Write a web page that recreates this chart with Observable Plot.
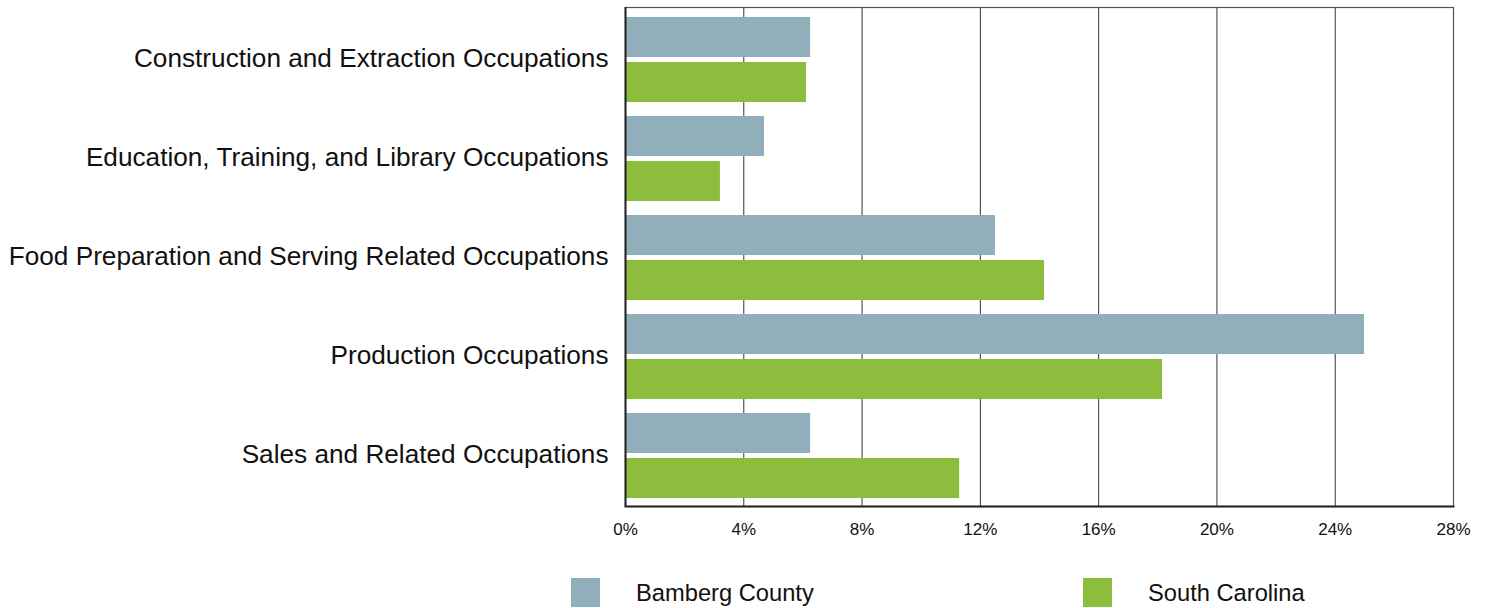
<!DOCTYPE html>
<html>
<head>
<meta charset="utf-8">
<script src="https://cdn.jsdelivr.net/npm/d3@7"></script>
<script src="https://cdn.jsdelivr.net/npm/@observablehq/plot@0.6"></script>
<style>
  html, body { margin: 0; padding: 0; background: #fff; }
  body { width: 1486px; height: 608px; position: relative; overflow: hidden; font-family: "Liberation Sans", Arial, sans-serif; }
  #legend { position: absolute; top: 578px; left: 0; width: 1486px; height: 30px; }
  .item { position: absolute; top: 0; display: flex; align-items: center; height: 29px; }
  .sw { width: 29px; height: 29px; }
  .lab { margin-left: 36px; font-size: 23.7px; color: #111; position: relative; top: 1px; }
</style>
</head>
<body>
<div id="chart"></div>
<div id="legend"></div>
<script>
const categories = [
  "Construction and Extraction Occupations",
  "Education, Training, and Library Occupations",
  "Food Preparation and Serving Related Occupations",
  "Production Occupations",
  "Sales and Related Occupations"
];
const seriesNames = ["Bamberg County", "South Carolina"];
const bamberg = [6.26, 4.70, 12.51, 24.99, 6.26];
const southCarolina = [6.12, 3.21, 14.17, 18.16, 11.30];
const xTicks = [0, 4, 8, 12, 16, 20, 24, 28];
const colors = ["#90afba", "#8dbd3c"];

const rowsB = categories.map((c, i) => ({category: c, value: bamberg[i]}));
const rowsS = categories.map((c, i) => ({category: c, value: southCarolina[i]}));

const chart = Plot.plot({
  width: 1486,
  height: 560,
  marginLeft: 625,
  marginRight: 33,
  marginTop: 7,
  marginBottom: 54,
  style: {fontFamily: "Liberation Sans, Arial, sans-serif", color: "#111", background: "#fff"},
  x: {domain: [0, 28], ticks: xTicks},
  y: {domain: categories, padding: 0},
  marks: [
    Plot.ruleX(xTicks.slice(1, -1), {stroke: "#333", strokeWidth: 1}),
    Plot.barX(rowsB, {y: "category", x: "value", fill: colors[0], insetTop: 8, insetBottom: 51}),
    Plot.barX(rowsS, {y: "category", x: "value", fill: colors[1], insetTop: 53, insetBottom: 6}),
    Plot.frame({stroke: "#555", strokeWidth: 1.2}),
    Plot.ruleX([0], {stroke: "#222", strokeWidth: 2}),
    Plot.frame({anchor: "bottom", stroke: "#222", strokeWidth: 2}),
    Plot.axisY({tickSize: 0, tickPadding: 17, fontSize: 26.2, label: null}),
    Plot.axisX({ticks: xTicks, tickFormat: d => d + "%", tickSize: 0, tickPadding: 16, fontSize: 17, label: null})
  ]
});
document.getElementById("chart").appendChild(chart);

const legend = document.getElementById("legend");
const lefts = [571, 1083];
seriesNames.forEach((name, i) => {
  const it = document.createElement("div");
  it.className = "item";
  it.style.left = lefts[i] + "px";
  it.innerHTML = `<div class="sw" style="background:${colors[i]}"></div><span class="lab">${name}</span>`;
  legend.appendChild(it);
});
</script>
</body>
</html>
